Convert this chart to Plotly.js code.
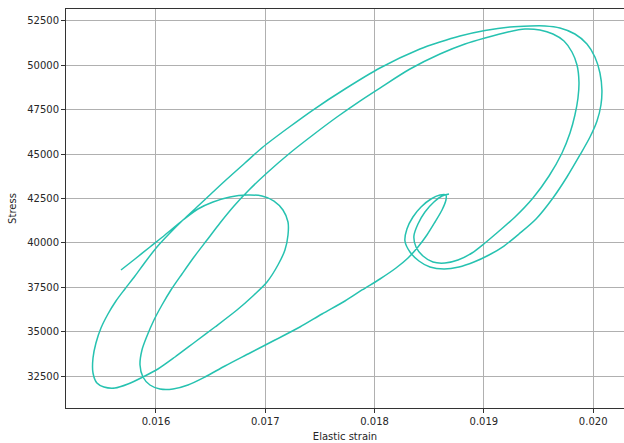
<!DOCTYPE html>
<html>
<head>
<meta charset="utf-8">
<script src="https://cdn.plot.ly/plotly-3.0.1.min.js"></script>
<style>
  html, body { margin: 0; padding: 0; background: #ffffff; }
  #chart { width: 624px; height: 443px; }
</style>
</head>
<body>
<div id="chart"></div>
<script>
// Elastic strain (x) and Stress (y), in drawing order
const elasticStrain = [
  0.015680, 0.015808, 0.015945, 0.016082, 0.016247, 0.016384, 0.016522, 0.016677, 0.016833, 0.016970,
  0.017080, 0.017162, 0.017208, 0.017208, 0.017180, 0.017116, 0.017016, 0.016887, 0.016741, 0.016540,
  0.016357, 0.016174, 0.016018, 0.015881, 0.015744, 0.015625, 0.015524, 0.015460, 0.015424, 0.015424,
  0.015451, 0.015497, 0.015561, 0.015634, 0.015716, 0.015808, 0.015909, 0.016009, 0.016119, 0.016247,
  0.016375, 0.016512, 0.016650, 0.016814, 0.016979, 0.017208, 0.017436, 0.017729, 0.018049, 0.018415,
  0.018598, 0.018781, 0.019010, 0.019239, 0.019422, 0.019559, 0.019696, 0.019833, 0.019943, 0.020016,
  0.020062, 0.020080, 0.020071, 0.020035, 0.019971, 0.019879, 0.019760, 0.019632, 0.019477, 0.019321,
  0.019184, 0.019047, 0.018909, 0.018772, 0.018635, 0.018507, 0.018406, 0.018324, 0.018278, 0.018296,
  0.018351, 0.018425, 0.018516, 0.018598, 0.018653, 0.018653, 0.018617, 0.018553, 0.018479, 0.018397,
  0.018306, 0.018196, 0.018049, 0.017885, 0.017729, 0.017519, 0.017317, 0.017089, 0.016860, 0.016631,
  0.016448, 0.016293, 0.016156, 0.016037, 0.015945, 0.015881, 0.015854, 0.015872, 0.015918, 0.015982,
  0.016055, 0.016137, 0.016238, 0.016348, 0.016467, 0.016586, 0.016714, 0.016851, 0.017025, 0.017226,
  0.017436, 0.017656, 0.017866, 0.018049, 0.018324, 0.018598, 0.018827, 0.019010, 0.019220, 0.019376,
  0.019513, 0.019632, 0.019733, 0.019806, 0.019852, 0.019870, 0.019861, 0.019833, 0.019788, 0.019715,
  0.019596, 0.019449, 0.019285, 0.019129, 0.019010, 0.018891, 0.018763, 0.018644, 0.018534, 0.018443,
  0.018379, 0.018360, 0.018397, 0.018461, 0.018543, 0.018617, 0.018681
];
const stress = [
  38470, 39088, 39764, 40440, 41284, 41904, 42298, 42579, 42692, 42636,
  42354, 41847, 41172, 40440, 39595, 38750, 37793, 37005, 36216, 35259,
  34415, 33570, 32894, 32444, 32050, 31824, 31881, 32106, 32669, 33514,
  34358, 35203, 35991, 36723, 37399, 38131, 38976, 39764, 40496, 41284,
  42016, 42805, 43593, 44494, 45395, 46465, 47478, 48661, 49843, 50913,
  51308, 51645, 51955, 52152, 52209, 52209, 52096, 51758, 51195, 50463,
  49562, 48605, 47760, 46859, 45958, 44945, 43706, 42523, 41341, 40496,
  39820, 39314, 38919, 38638, 38525, 38638, 38976, 39482, 40102, 40778,
  41453, 42016, 42467, 42692, 42692, 42411, 41847, 41172, 40440, 39764,
  39145, 38581, 37962, 37343, 36723, 35991, 35259, 34527, 33795, 33063,
  32444, 31993, 31768, 31768, 31993, 32444, 33119, 33964, 34752, 35653,
  36498, 37343, 38244, 39201, 40158, 41115, 42073, 42974, 43987, 45057,
  46071, 47084, 47985, 48717, 49787, 50632, 51195, 51533, 51871, 52040,
  51983, 51758, 51364, 50744, 50012, 49055, 48154, 47197, 46183, 45057,
  43762, 42523, 41453, 40609, 39989, 39426, 39032, 38863, 38919, 39257,
  39764, 40383, 41059, 41735, 42298, 42636, 42748
];
const xTicks = [0.016, 0.017, 0.018, 0.019, 0.020];
const xTickLabels = ["0.016", "0.017", "0.018", "0.019", "0.020"];
const yTicks = [32500, 35000, 37500, 40000, 42500, 45000, 47500, 50000, 52500];
const yTickLabels = ["32500", "35000", "37500", "40000", "42500", "45000", "47500", "50000", "52500"];

const trace = {
  x: elasticStrain,
  y: stress,
  type: 'scatter',
  mode: 'lines',
  line: { color: '#26c2b0', width: 1.5, shape: 'spline', smoothing: 0.8 },
  hoverinfo: 'x+y'
};

const fontFamily = '"DejaVu Sans", Verdana, sans-serif';
const layout = {
  width: 624,
  height: 443,
  margin: { l: 66, r: 0, t: 9, b: 35, pad: 0 },
  paper_bgcolor: '#ffffff',
  plot_bgcolor: '#ffffff',
  showlegend: false,
  font: { family: fontFamily, size: 10, color: '#262626' },
  xaxis: {
    range: [0.015177, 0.020282],
    tickmode: 'array',
    tickvals: xTicks,
    ticktext: xTickLabels,
    ticks: 'outside',
    ticklen: 4,
    tickcolor: '#333333',
    showgrid: true,
    gridcolor: '#b0b0b0',
    gridwidth: 1,
    zeroline: false,
    showline: true,
    linecolor: '#333333',
    linewidth: 1,
    mirror: true,
    title: { text: 'Elastic strain', font: { family: fontFamily, size: 10, color: '#262626' }, standoff: 6 }
  },
  yaxis: {
    range: [30698, 53166],
    tickmode: 'array',
    tickvals: yTicks,
    ticktext: yTickLabels,
    ticks: 'outside',
    ticklen: 4,
    tickcolor: '#333333',
    showgrid: true,
    gridcolor: '#b0b0b0',
    gridwidth: 1,
    zeroline: false,
    showline: true,
    linecolor: '#333333',
    linewidth: 1,
    mirror: false,
    title: { text: 'Stress', font: { family: fontFamily, size: 10, color: '#262626' }, standoff: 8 }
  }
};

Plotly.newPlot('chart', [trace], layout, { displayModeBar: false, staticPlot: true });
</script>
</body>
</html>
